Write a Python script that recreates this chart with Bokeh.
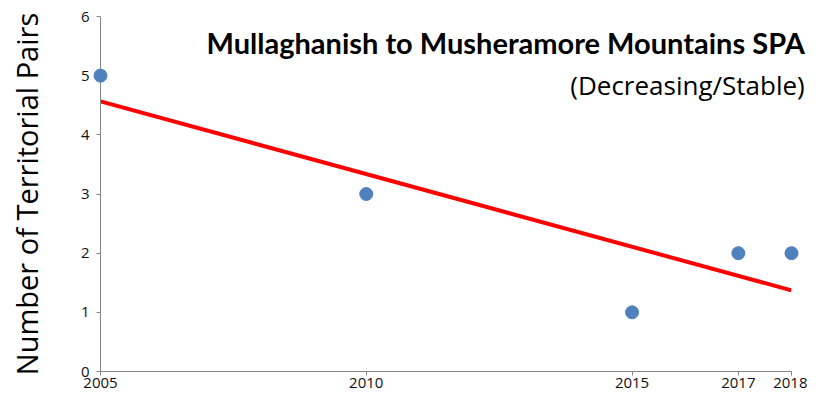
import numpy as np
from bokeh.plotting import figure
from bokeh.models import Range1d, FixedTicker
from bokeh.core.properties import value
from bokeh.embed import file_html
from bokeh.resources import INLINE

# ---- data ----
years = [2005, 2010, 2015, 2017, 2018]
pairs = [5, 3, 1, 2, 2]
x_ticks = [2005, 2010, 2015, 2017, 2018]
y_ticks = [0, 1, 2, 3, 4, 5, 6]
title_text = "Mullaghanish to Musheramore Mountains SPA"
subtitle_text = "(Decreasing/Stable)"
y_label = "Number of Territorial Pairs"

# linear trend fitted to the data
slope, intercept = np.polyfit(years, pairs, 1)
trend_x = [min(years), max(years)]
trend_y = [slope * x + intercept for x in trend_x]

p = figure(width=807, height=394, output_backend="svg", toolbar_location=None,
           x_range=Range1d(2005, 2018), y_range=Range1d(0, 6),
           min_border_left=100, min_border_right=16, min_border_top=16,
           min_border_bottom=23)
p.outline_line_color = None
p.grid.visible = False
p.background_fill_color = "white"

axis_col = "#868686"
for ax in (p.xaxis[0], p.yaxis[0]):
    ax.axis_line_color = axis_col
    ax.major_tick_line_color = axis_col
    ax.minor_tick_line_color = None
    ax.major_tick_in = 0
    ax.major_tick_out = 4
    ax.major_label_text_font = "Open Sans"
    ax.major_label_text_font_size = "15px"
    ax.major_label_text_color = "#111111"

p.xaxis.ticker = FixedTicker(ticks=x_ticks)
p.xaxis.major_label_standoff = 2
p.yaxis.ticker = FixedTicker(ticks=y_ticks)
p.yaxis.major_label_standoff = 7
p.yaxis.axis_label = y_label
p.yaxis.axis_label_text_font = "Open Sans"
p.yaxis.axis_label_text_font_style = "normal"
p.yaxis.axis_label_text_font_size = "29px"
p.yaxis.axis_label_text_color = "#000000"
p.yaxis.axis_label_standoff = 32

p.line(trend_x, trend_y, line_color="#ff0000", line_width=4)
p.scatter(years, pairs, size=13, fill_color="#4f81bd", line_color="#4f81bd",
          level="overlay")

p.text(x=[2018.25], y=[5.56], text=[title_text], text_align="right",
       text_baseline="alphabetic", text_font=value("Lato"),
       text_font_style="bold", text_font_size="29px", text_color="#000000",
       level="overlay")
p.text(x=[2018.25], y=[4.85], text=[subtitle_text], text_align="right",
       text_baseline="alphabetic", text_font=value("Open Sans"),
       text_font_style="normal", text_font_size="26px", text_color="#000000",
       level="overlay")

open("out.html", "w").write(file_html(p, INLINE))
